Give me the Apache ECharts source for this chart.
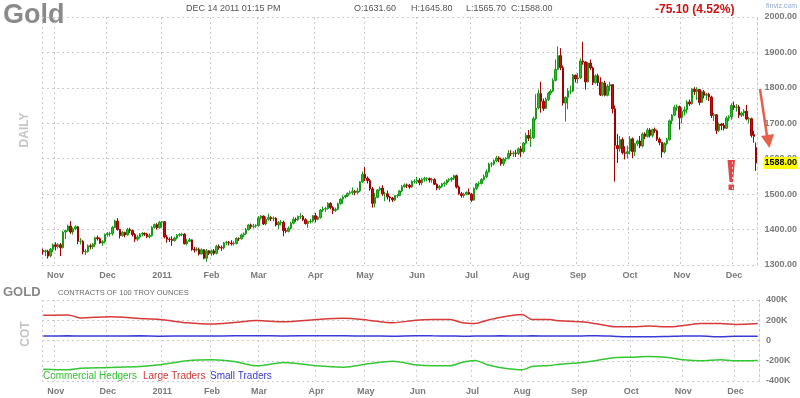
<!DOCTYPE html>
<html>
<head>
<meta charset="utf-8">
<title>Gold</title>
<script src="https://cdn.jsdelivr.net/npm/echarts@6/dist/echarts.min.js"></script>
<style>
  html, body { margin: 0; padding: 0; background: #fff; }
  #chart { width: 800px; height: 398px; }
</style>
</head>
<body>
<div id="chart"></div>
<script>
// daily candles, one row per trading day: [day, open, close, low, high]
const oct10 = [
  [25, 1341, 1338, 1329, 1346], [26, 1338, 1340, 1325, 1344], [27, 1339, 1325, 1318, 1343],
  [28, 1326, 1344, 1322, 1348], [29, 1344, 1357, 1336, 1361]
]
const nov10 = [
  [1, 1357, 1352, 1341, 1364], [2, 1352, 1357, 1346, 1362], [3, 1357, 1349, 1325, 1362],
  [4, 1349, 1393, 1347, 1396], [5, 1393, 1397, 1373, 1400], [8, 1397, 1410, 1394, 1414],
  [9, 1410, 1393, 1388, 1424], [10, 1393, 1402, 1386, 1406], [11, 1402, 1408, 1398, 1412],
  [12, 1408, 1367, 1359, 1410], [15, 1367, 1367, 1358, 1376], [16, 1367, 1337, 1330, 1370],
  [17, 1337, 1338, 1328, 1345], [18, 1338, 1354, 1335, 1358], [19, 1354, 1352, 1344, 1360],
  [22, 1352, 1358, 1345, 1362], [23, 1358, 1377, 1351, 1380], [24, 1377, 1374, 1369, 1383],
  [26, 1374, 1362, 1360, 1378], [29, 1362, 1366, 1354, 1370], [30, 1366, 1386, 1361, 1389]
]
const dec10 = [
  [1, 1386, 1388, 1380, 1393], [2, 1388, 1389, 1380, 1394], [3, 1389, 1406, 1383, 1410],
  [6, 1406, 1424, 1404, 1428], [7, 1424, 1400, 1397, 1432], [8, 1400, 1383, 1375, 1402],
  [9, 1383, 1392, 1380, 1396], [10, 1392, 1385, 1378, 1394], [13, 1385, 1400, 1383, 1405],
  [14, 1400, 1397, 1390, 1405], [15, 1397, 1386, 1380, 1400], [16, 1386, 1373, 1365, 1390],
  [17, 1373, 1379, 1368, 1385], [20, 1379, 1387, 1375, 1390], [21, 1387, 1389, 1381, 1393],
  [22, 1389, 1387, 1382, 1392], [23, 1387, 1380, 1376, 1391], [27, 1380, 1383, 1375, 1389],
  [28, 1383, 1406, 1380, 1410], [29, 1406, 1414, 1403, 1417], [30, 1414, 1405, 1400, 1418],
  [31, 1405, 1421, 1403, 1424]
]
const jan11 = [
  [3, 1421, 1422, 1406, 1424], [4, 1422, 1379, 1375, 1424], [5, 1379, 1373, 1363, 1385],
  [6, 1373, 1372, 1365, 1378], [7, 1372, 1369, 1354, 1381], [10, 1369, 1376, 1366, 1380],
  [11, 1376, 1384, 1372, 1387], [12, 1384, 1386, 1380, 1390], [13, 1386, 1387, 1381, 1391],
  [14, 1387, 1360, 1358, 1390], [18, 1360, 1367, 1355, 1373], [19, 1367, 1371, 1365, 1376],
  [20, 1371, 1344, 1340, 1372], [21, 1344, 1342, 1335, 1351], [24, 1342, 1344, 1338, 1350],
  [25, 1344, 1331, 1327, 1349], [26, 1331, 1343, 1330, 1347], [27, 1343, 1319, 1316, 1345],
  [28, 1319, 1340, 1309, 1345], [31, 1340, 1333, 1328, 1342]
]
const feb11 = [
  [1, 1333, 1340, 1326, 1344], [2, 1340, 1333, 1328, 1345], [3, 1333, 1353, 1330, 1357],
  [4, 1353, 1349, 1343, 1358], [7, 1349, 1348, 1340, 1355], [8, 1348, 1362, 1344, 1365],
  [9, 1362, 1364, 1356, 1368], [10, 1364, 1362, 1355, 1368], [11, 1362, 1360, 1355, 1370],
  [14, 1360, 1361, 1355, 1367], [15, 1361, 1375, 1358, 1378], [16, 1375, 1374, 1368, 1378],
  [17, 1374, 1385, 1372, 1389], [18, 1385, 1388, 1379, 1392], [22, 1388, 1400, 1385, 1405],
  [23, 1400, 1413, 1397, 1416], [24, 1413, 1409, 1402, 1417], [25, 1409, 1410, 1403, 1416],
  [28, 1410, 1411, 1405, 1415]
]
const mar11 = [
  [1, 1411, 1433, 1408, 1438], [2, 1433, 1438, 1428, 1441], [3, 1438, 1416, 1413, 1440],
  [4, 1416, 1429, 1412, 1437], [7, 1429, 1434, 1425, 1445], [8, 1434, 1431, 1424, 1438],
  [9, 1431, 1432, 1423, 1437], [10, 1432, 1413, 1409, 1435], [11, 1413, 1420, 1402, 1424],
  [14, 1420, 1421, 1412, 1427], [15, 1421, 1397, 1381, 1425], [16, 1397, 1395, 1390, 1405],
  [17, 1395, 1404, 1392, 1409], [18, 1404, 1418, 1400, 1422], [21, 1418, 1429, 1415, 1436],
  [22, 1429, 1428, 1422, 1434], [23, 1428, 1437, 1424, 1440], [24, 1437, 1437, 1430, 1446],
  [25, 1437, 1428, 1424, 1441], [28, 1428, 1417, 1414, 1432], [29, 1417, 1423, 1405, 1426],
  [30, 1423, 1424, 1417, 1430], [31, 1424, 1439, 1420, 1441]
]
const apr11 = [
  [1, 1439, 1429, 1420, 1447], [4, 1429, 1434, 1426, 1438], [5, 1434, 1455, 1431, 1458],
  [6, 1455, 1458, 1450, 1465], [7, 1458, 1459, 1450, 1464], [8, 1459, 1474, 1456, 1477],
  [11, 1474, 1462, 1457, 1477], [12, 1462, 1454, 1444, 1466], [13, 1454, 1457, 1450, 1462],
  [14, 1457, 1473, 1455, 1476], [15, 1473, 1486, 1470, 1488], [18, 1486, 1492, 1473, 1496],
  [19, 1492, 1496, 1488, 1498], [20, 1496, 1502, 1492, 1505], [21, 1502, 1504, 1499, 1510],
  [25, 1504, 1508, 1498, 1519], [26, 1508, 1505, 1497, 1512], [27, 1505, 1509, 1500, 1518],
  [28, 1509, 1535, 1505, 1537], [29, 1535, 1556, 1531, 1564]
]
const may11 = [
  [2, 1556, 1545, 1537, 1577], [3, 1545, 1538, 1530, 1550], [4, 1538, 1515, 1510, 1543],
  [5, 1515, 1474, 1462, 1520], [6, 1474, 1491, 1463, 1503], [9, 1491, 1512, 1488, 1515],
  [10, 1512, 1517, 1508, 1522], [11, 1517, 1501, 1495, 1525], [12, 1501, 1501, 1480, 1507],
  [13, 1501, 1492, 1485, 1510], [16, 1492, 1489, 1478, 1495], [17, 1489, 1484, 1478, 1492],
  [18, 1484, 1496, 1480, 1498], [19, 1496, 1496, 1489, 1500], [20, 1496, 1509, 1494, 1512],
  [23, 1509, 1521, 1505, 1526], [24, 1521, 1526, 1518, 1530], [25, 1526, 1525, 1517, 1530],
  [26, 1525, 1520, 1515, 1529], [27, 1520, 1536, 1518, 1539], [31, 1536, 1536, 1530, 1542]
]
const jun11 = [
  [1, 1536, 1539, 1529, 1549], [2, 1539, 1532, 1525, 1545], [3, 1532, 1542, 1525, 1546],
  [6, 1542, 1544, 1535, 1549], [7, 1544, 1544, 1536, 1548], [8, 1544, 1540, 1533, 1547],
  [9, 1540, 1541, 1532, 1546], [10, 1541, 1528, 1526, 1545], [13, 1528, 1517, 1511, 1530],
  [14, 1517, 1522, 1512, 1526], [15, 1522, 1529, 1518, 1532], [16, 1529, 1531, 1521, 1536],
  [17, 1531, 1539, 1526, 1542], [20, 1539, 1541, 1534, 1545], [21, 1541, 1545, 1535, 1548],
  [22, 1545, 1552, 1540, 1555], [23, 1552, 1520, 1516, 1555], [24, 1520, 1501, 1498, 1524],
  [27, 1501, 1496, 1490, 1506], [28, 1496, 1500, 1490, 1504], [29, 1500, 1505, 1497, 1508],
  [30, 1505, 1500, 1498, 1516]
]
const jul11 = [
  [1, 1500, 1483, 1478, 1503], [5, 1483, 1516, 1482, 1519], [6, 1516, 1529, 1511, 1532],
  [7, 1529, 1530, 1521, 1536], [8, 1530, 1541, 1527, 1545], [11, 1541, 1549, 1538, 1556],
  [12, 1549, 1563, 1545, 1570], [13, 1563, 1585, 1560, 1589], [14, 1585, 1585, 1576, 1590],
  [15, 1585, 1594, 1581, 1598], [18, 1594, 1602, 1590, 1608], [19, 1602, 1599, 1590, 1607],
  [20, 1599, 1586, 1580, 1603], [21, 1586, 1599, 1580, 1603], [22, 1599, 1601, 1592, 1604],
  [25, 1601, 1615, 1598, 1624], [26, 1615, 1614, 1608, 1624], [27, 1614, 1616, 1605, 1621],
  [28, 1616, 1615, 1605, 1625], [29, 1615, 1628, 1610, 1632]
]
const aug11 = [
  [1, 1628, 1620, 1605, 1636], [2, 1620, 1644, 1615, 1647], [3, 1644, 1666, 1640, 1673],
  [4, 1666, 1658, 1650, 1681], [5, 1658, 1659, 1633, 1684], [8, 1659, 1713, 1656, 1719],
  [9, 1713, 1743, 1708, 1782], [10, 1743, 1784, 1739, 1795], [11, 1784, 1762, 1730, 1817],
  [12, 1762, 1742, 1735, 1770], [15, 1742, 1767, 1740, 1773], [16, 1767, 1785, 1763, 1789],
  [17, 1785, 1791, 1780, 1796], [18, 1791, 1821, 1788, 1827], [19, 1821, 1852, 1818, 1880],
  [22, 1852, 1891, 1850, 1917], [23, 1891, 1857, 1850, 1912], [24, 1857, 1757, 1750, 1863],
  [25, 1757, 1773, 1705, 1776], [26, 1773, 1791, 1740, 1799], [29, 1791, 1791, 1782, 1806],
  [30, 1791, 1836, 1788, 1839], [31, 1836, 1825, 1815, 1837]
]
const sep11 = [
  [1, 1825, 1828, 1813, 1842], [2, 1828, 1876, 1825, 1883], [6, 1876, 1873, 1865, 1930],
  [7, 1873, 1817, 1795, 1875], [8, 1817, 1870, 1815, 1873], [9, 1870, 1856, 1850, 1880],
  [12, 1856, 1815, 1808, 1860], [13, 1815, 1834, 1812, 1838], [14, 1834, 1815, 1805, 1840],
  [15, 1815, 1780, 1777, 1830], [16, 1780, 1814, 1776, 1816], [19, 1814, 1779, 1776, 1820],
  [20, 1779, 1805, 1776, 1810], [21, 1805, 1809, 1790, 1817], [22, 1809, 1741, 1728, 1810],
  [23, 1741, 1637, 1535, 1750], [26, 1637, 1628, 1588, 1670], [27, 1628, 1654, 1620, 1664],
  [28, 1654, 1617, 1612, 1660], [29, 1617, 1615, 1598, 1635], [30, 1615, 1620, 1601, 1637]
]
const oct11 = [
  [3, 1622, 1656, 1612, 1664], [4, 1656, 1620, 1602, 1660], [5, 1620, 1642, 1608, 1645],
  [6, 1642, 1650, 1636, 1654], [7, 1650, 1636, 1630, 1664], [10, 1636, 1670, 1632, 1674],
  [11, 1670, 1663, 1655, 1675], [12, 1663, 1681, 1660, 1687], [13, 1681, 1666, 1660, 1686],
  [14, 1666, 1682, 1660, 1685], [17, 1682, 1679, 1672, 1688], [18, 1679, 1655, 1650, 1682],
  [19, 1655, 1646, 1638, 1660], [20, 1646, 1619, 1603, 1648], [21, 1619, 1643, 1615, 1646],
  [24, 1643, 1654, 1638, 1659], [25, 1654, 1707, 1651, 1711], [26, 1707, 1723, 1697, 1726],
  [27, 1723, 1745, 1720, 1752], [28, 1745, 1747, 1735, 1753], [31, 1747, 1716, 1682, 1750]
]
const nov11 = [
  [1, 1716, 1734, 1700, 1745], [2, 1734, 1738, 1722, 1747], [3, 1738, 1760, 1728, 1765],
  [4, 1760, 1755, 1749, 1767], [7, 1755, 1796, 1753, 1799], [8, 1796, 1790, 1780, 1802],
  [9, 1790, 1795, 1766, 1802], [10, 1795, 1759, 1751, 1797], [11, 1759, 1789, 1757, 1792],
  [14, 1789, 1779, 1770, 1794], [15, 1779, 1782, 1766, 1786], [16, 1782, 1774, 1763, 1786],
  [17, 1774, 1722, 1715, 1778], [18, 1722, 1724, 1706, 1729], [21, 1724, 1680, 1670, 1726],
  [22, 1680, 1698, 1675, 1702], [23, 1698, 1694, 1681, 1700], [25, 1694, 1686, 1680, 1701],
  [28, 1686, 1715, 1684, 1720], [29, 1715, 1718, 1706, 1723], [30, 1718, 1750, 1710, 1756]
]
const dec11 = [
  [1, 1750, 1745, 1738, 1761], [2, 1745, 1746, 1733, 1754], [5, 1746, 1723, 1715, 1752],
  [6, 1723, 1729, 1718, 1733], [7, 1729, 1734, 1720, 1740], [8, 1734, 1712, 1708, 1752],
  [9, 1712, 1713, 1700, 1718], [12, 1713, 1666, 1660, 1716], [13, 1668, 1663.1, 1645, 1679],
  [14, 1631.6, 1588, 1565.7, 1645.8]
]
const months = [
  ['2010-10', oct10], ['2010-11', nov10], ['2010-12', dec10], ['2011-01', jan11],
  ['2011-02', feb11], ['2011-03', mar11], ['2011-04', apr11], ['2011-05', may11],
  ['2011-06', jun11], ['2011-07', jul11], ['2011-08', aug11], ['2011-09', sep11],
  ['2011-10', oct11], ['2011-11', nov11], ['2011-12', dec11]
]

// COT positions, thousands of contracts
const cotDates = [
  '2010-10-25', '2010-11-08', '2010-11-15', '2010-12-02', '2010-12-20', '2010-12-31',
  '2011-01-18', '2011-02-01', '2011-02-14', '2011-02-28', '2011-03-15', '2011-04-01',
  '2011-04-18', '2011-05-03', '2011-05-17', '2011-05-31', '2011-06-09', '2011-06-20',
  '2011-06-27', '2011-07-05', '2011-07-12', '2011-07-19', '2011-08-01', '2011-08-05',
  '2011-08-16', '2011-08-22', '2011-09-02', '2011-09-13', '2011-09-23', '2011-10-03',
  '2011-10-12', '2011-10-24', '2011-11-01', '2011-11-10', '2011-11-22', '2011-12-01',
  '2011-12-14'
]
const largeTraders = [
  250, 253, 223, 234, 217, 207, 175, 162, 178, 198, 184, 207, 220, 201, 175, 200, 207, 207,
  175, 168, 200, 227, 257, 207, 207, 194, 184, 165, 135, 135, 142, 135, 149, 168, 168, 159, 168
]
const smallTraders = [
  44, 46, 44, 45, 46, 43, 44, 44, 46, 48, 45, 48, 46, 44, 43, 47, 46, 45,
  42, 44, 45, 46, 45, 46, 44, 44, 45, 48, 40, 36, 36, 40, 44, 44, 36, 42, 42
]
const commercialHedgers = [
  -283, -289, -273, -266, -257, -240, -201, -191, -207, -250, -217, -250, -263, -230, -204, -240, -250, -250,
  -214, -197, -240, -266, -289, -257, -247, -235, -217, -197, -168, -165, -158, -168, -191, -201, -191, -201, -197
]

const monthNames = ['Jan', 'Feb', 'Mar', 'Apr', 'May', 'Jun', 'Jul', 'Aug', 'Sep', 'Oct', 'Nov', 'Dec']

const dates = []
const candles = []
months.forEach(([ym, rows]) => {
  rows.forEach(r => {
    dates.push(ym + '-' + String(r[0]).padStart(2, '0'))
    candles.push(r.slice(1))
  })
})
const lastClose = candles[candles.length - 1][1]

const isMonthStart = i => i > 0 && dates[i].slice(0, 7) !== dates[i - 1].slice(0, 7)
const monthLabel = v => {
  const m = +v.slice(5, 7)
  return m === 1 ? v.slice(0, 4) : monthNames[m - 1]
}

const FONT = '"Liberation Sans", Arial, sans-serif'
const gridLine = { color: '#cccccc', type: [2, 3], width: 1 }
const axisText = { color: '#7a7a7a', fontSize: 9, fontWeight: 'bold', fontFamily: FONT }
const alertRed = '#e04848'

function dateAxis(gridIndex) {
  return {
    type: 'category',
    gridIndex,
    data: dates,
    boundaryGap: true,
    axisLine: { show: false },
    axisTick: { show: false },
    axisLabel: { ...axisText, interval: i => isMonthStart(i), formatter: monthLabel, margin: 6 },
    splitLine: { show: true, interval: i => i === 0 || isMonthStart(i), lineStyle: gridLine },
  }
}

function txt(text, x, y, font, fill, extra) {
  return {
    type: 'text', x, y, silent: true,
    style: { text, font, fill, textVerticalAlign: 'middle', ...(extra || {}) },
  }
}

const myEcharts = echarts.init(document.getElementById('chart'))
myEcharts.setOption({
  animation: false,
  backgroundColor: '#fff',
  grid: [
    { left: 42, right: 41, top: 17, height: 248 },
    { left: 42, right: 41, top: 300, height: 81 },
  ],
  xAxis: [dateAxis(0), dateAxis(1)],
  yAxis: [
    {
      type: 'value', gridIndex: 0, position: 'right',
      min: 1300, max: 2000, interval: 100,
      axisLine: { show: true, lineStyle: gridLine },
      axisTick: { show: false },
      axisLabel: { ...axisText, margin: 7, formatter: v => v.toFixed(2) },
      splitLine: { lineStyle: gridLine },
    },
    {
      type: 'value', gridIndex: 1, position: 'right',
      min: -400, max: 400, interval: 200,
      axisLine: { show: true, lineStyle: gridLine },
      axisTick: { show: false },
      axisLabel: { ...axisText, margin: 7, formatter: v => (v === 0 ? '0' : v + 'K') },
      splitLine: { lineStyle: gridLine },
    },
  ],
  series: [
    {
      type: 'candlestick',
      xAxisIndex: 0, yAxisIndex: 0,
      data: candles,
      barWidth: 2,
      itemStyle: {
        color: '#22c422', color0: '#cc0a0a',
        borderColor: '#169a16', borderColor0: '#a00000',
        borderWidth: 1,
      },
      markLine: {
        silent: true,
        symbol: 'none',
        data: [{ yAxis: lastClose }],
        lineStyle: { color: 'transparent' },
        label: {
          position: 'end', distance: 6,
          formatter: lastClose.toFixed(2),
          backgroundColor: '#ffff00', color: '#000',
          fontSize: 9, fontWeight: 'bold', fontFamily: FONT,
          padding: [2, 1, 1, 1],
        },
      },
    },
    {
      name: 'Large Traders', type: 'line', xAxisIndex: 1, yAxisIndex: 1,
      data: cotDates.map((d, i) => [d, largeTraders[i]]),
      showSymbol: false, smooth: 0.3,
      lineStyle: { color: '#d83a3a', width: 1.5 },
    },
    {
      name: 'Small Traders', type: 'line', xAxisIndex: 1, yAxisIndex: 1,
      data: cotDates.map((d, i) => [d, smallTraders[i]]),
      showSymbol: false, smooth: 0.3,
      lineStyle: { color: '#3a3ad8', width: 1.5 },
    },
    {
      name: 'Commercial Hedgers', type: 'line', xAxisIndex: 1, yAxisIndex: 1,
      data: cotDates.map((d, i) => [d, commercialHedgers[i]]),
      showSymbol: false, smooth: 0.3,
      lineStyle: { color: '#33c733', width: 1.5 },
    },
  ],
  graphic: [
    txt('Gold', 3, 16, 'bold 27px ' + FONT, '#8a8a8a'),
    txt('DEC 14 2011 01:15 PM', 186, 9, '9px ' + FONT, '#555'),
    txt('O:1631.60', 354, 9, '9px ' + FONT, '#555'),
    txt('H:1645.80', 411, 9, '9px ' + FONT, '#555'),
    txt('L:1565.70', 466, 9, '9px ' + FONT, '#555'),
    txt('C:1588.00', 511, 9, '9px ' + FONT, '#555'),
    txt('-75.10 (4.52%)', 655, 10, 'bold 12px ' + FONT, '#cc1111'),
    txt('finviz.com', 766, 6, '7px ' + FONT, '#8fa8c8'),
    {
      type: 'text', x: 25, y: 130, rotation: Math.PI / 2, silent: true,
      style: { text: 'DAILY', font: 'bold 12px ' + FONT, fill: '#c4c4c4', textAlign: 'center', textVerticalAlign: 'middle' },
    },
    txt('GOLD', 3, 292, 'bold 13px ' + FONT, '#888'),
    txt('CONTRACTS OF 100 TROY OUNCES', 58, 293, '7.5px ' + FONT, '#6a6a6a'),
    {
      type: 'text', x: 26, y: 334, rotation: Math.PI / 2, silent: true,
      style: { text: 'COT', font: 'bold 12px ' + FONT, fill: '#c4c4c4', textAlign: 'center', textVerticalAlign: 'middle' },
    },
    txt('Commercial Hedgers', 43, 376, '10px ' + FONT, '#33c033'),
    txt('Large Traders', 143, 376, '10px ' + FONT, '#d03838'),
    txt('Small Traders', 210, 376, '10px ' + FONT, '#3838d0'),
    // down arrow next to the last candles
    {
      type: 'line', silent: true,
      shape: { x1: 760, y1: 89, x2: 767, y2: 136 },
      style: { stroke: '#e8604a', lineWidth: 2.5 },
    },
    {
      type: 'polygon', silent: true,
      shape: { points: [[761, 136], [774, 134], [769.5, 148]] },
      style: { fill: '#e8604a' },
    },
    // exclamation mark
    {
      type: 'polygon', silent: true,
      shape: { points: [[727.5, 160], [735, 160], [733, 182], [729.5, 182]] },
      style: { fill: alertRed },
    },
    {
      type: 'rect', silent: true,
      shape: { x: 728.5, y: 184.5, width: 5.5, height: 5.5 },
      style: { fill: alertRed },
    },
  ],
})
</script>
</body>
</html>
